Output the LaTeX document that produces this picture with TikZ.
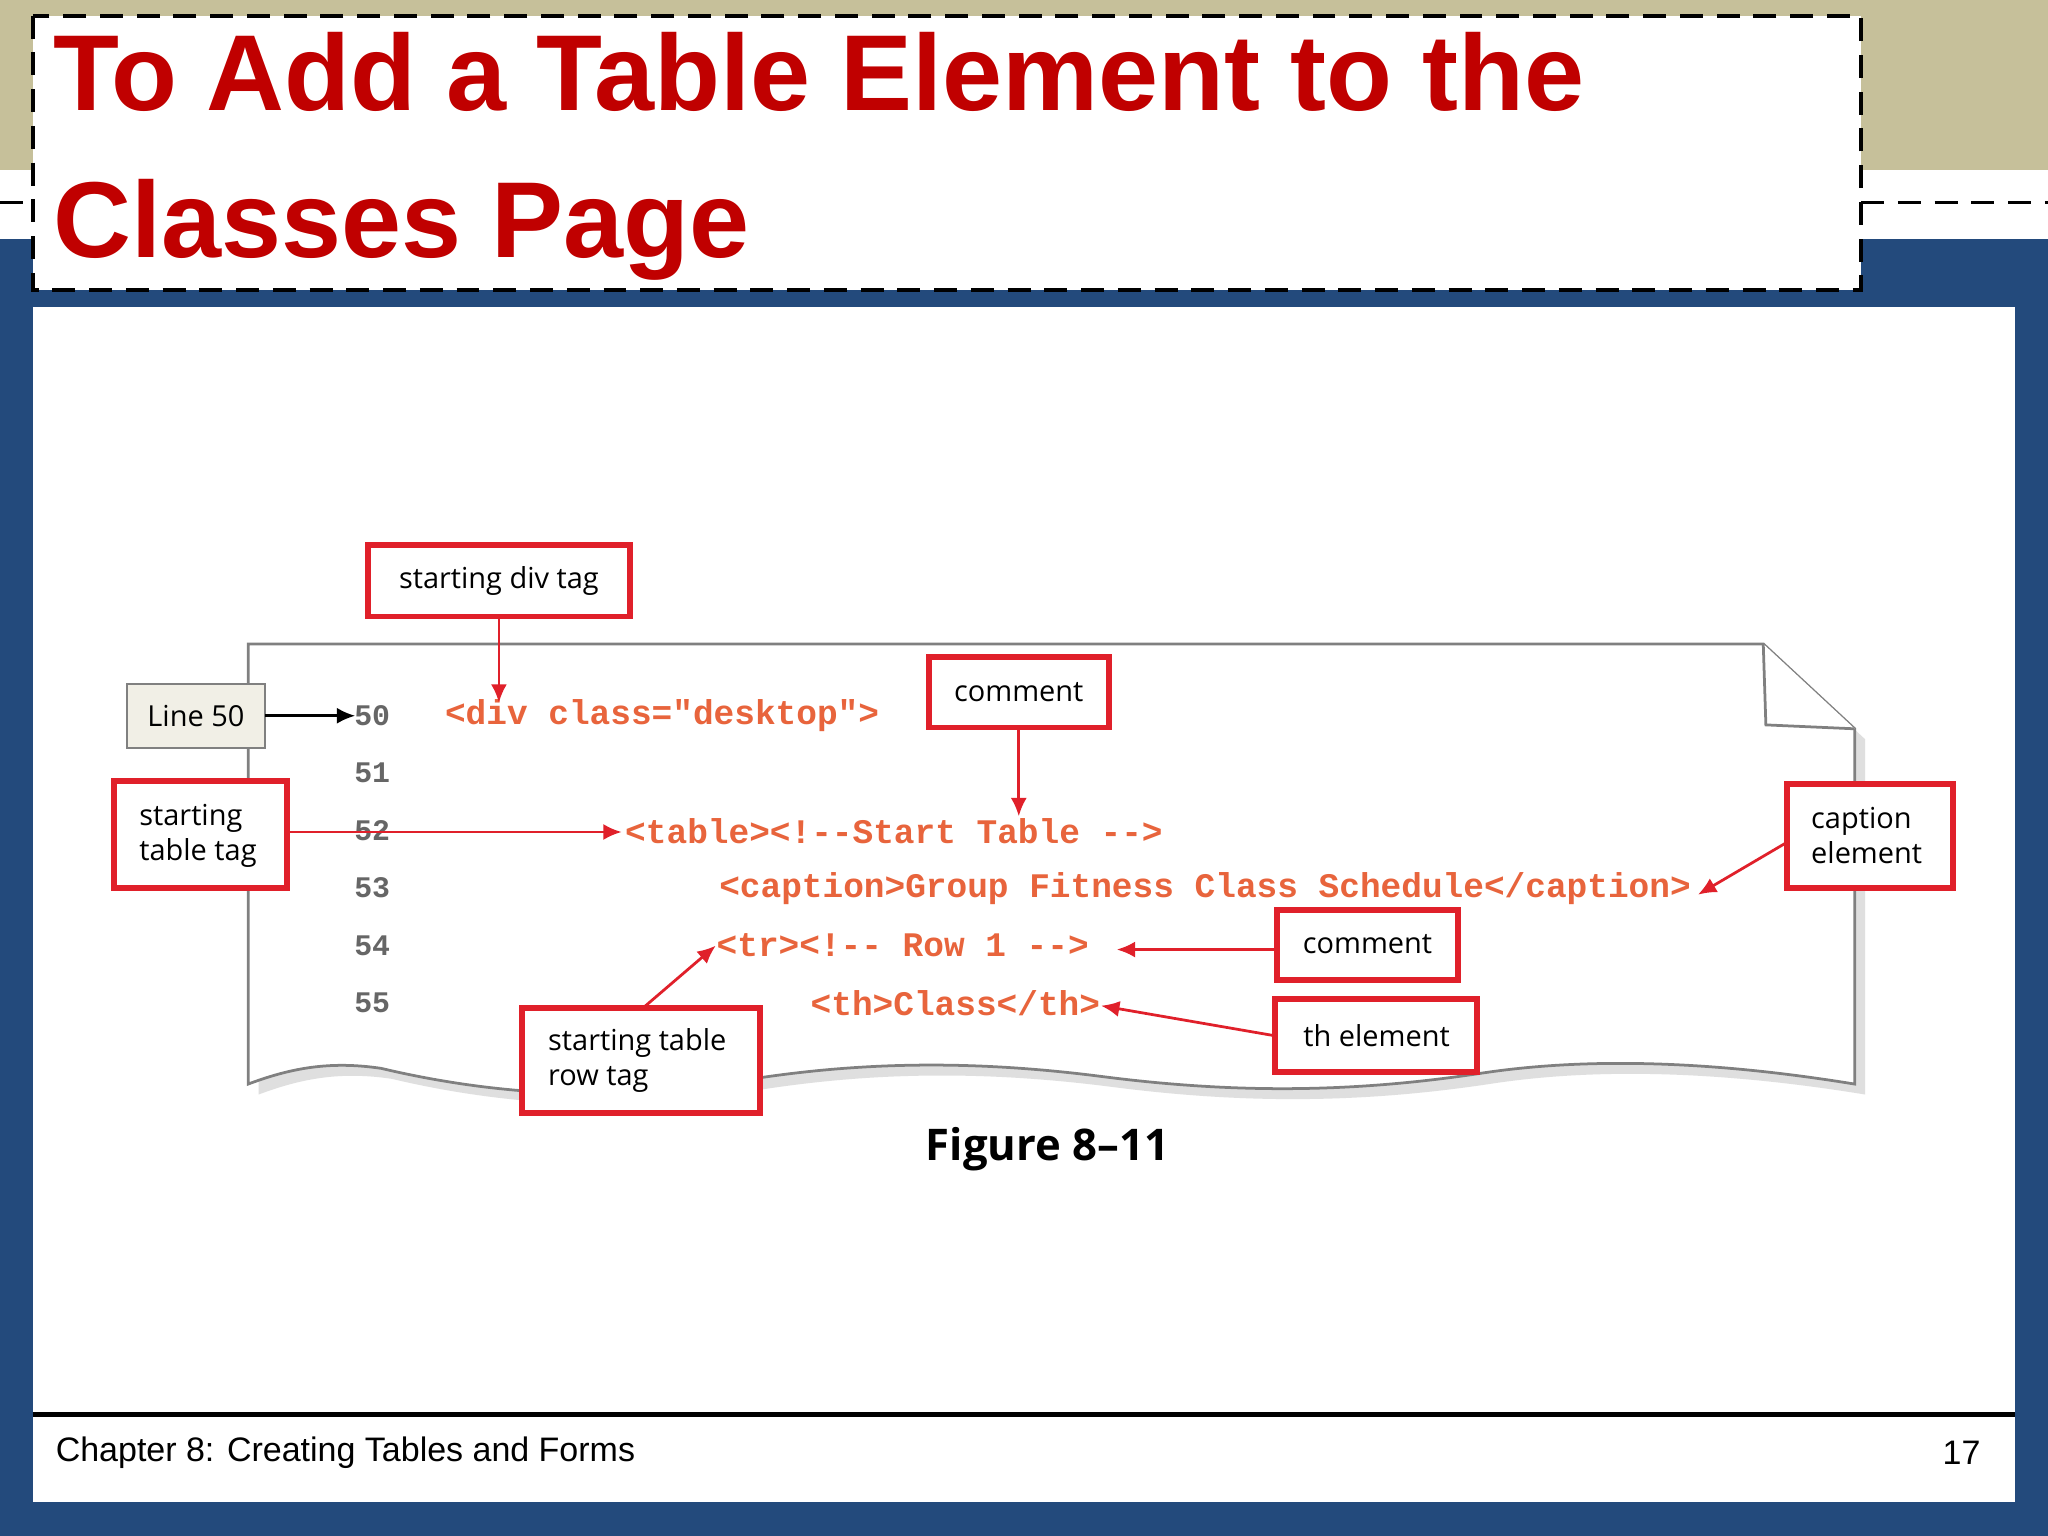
\documentclass[tikz,border=0pt]{standalone}
\usepackage{fontspec}
\setmainfont{Liberation Sans}
\newfontfamily\codefont{Liberation Mono}
\newfontfamily\callfont{Open Sans}
\usetikzlibrary{arrows.meta}
\definecolor{beige}{HTML}{C6C09A}
\definecolor{navy}{HTML}{234A7C}
\definecolor{tred}{HTML}{C00000}
\definecolor{cred}{HTML}{E0202A}
\definecolor{code}{HTML}{E8643C}
\tikzset{
 cbox/.style={draw=cred,line width=1.3pt,fill=white},
 ctext/.style={font=\callfont\fontsize{6.3}{7.6}\selectfont,align=left,inner sep=0pt},
 redarrow/.style={draw=cred,line width=0.6pt,-{Latex[length=4pt,width=3.5pt]}},
 codeline/.style={anchor=west,text=code,font=\codefont\bfseries\fontsize{7.5}{9}\selectfont,inner sep=0pt},
 lnum/.style={text=gray!80!black,font=\codefont\bfseries\fontsize{6.5}{8}\selectfont,inner sep=0pt}
}
\begin{document}
\begin{tikzpicture}[x=0.01cm,y=-0.01cm]
\useasboundingbox (0,0) rectangle (1568,1176);
% background
\fill[navy] (0,0) rectangle (1568,1176);
\fill[beige] (0,0) rectangle (1568,130);
\fill[white] (0,130) rectangle (1568,183);
\draw[line width=0.8pt,dash pattern=on 5pt off 3pt] (0,155) -- (25,155) (1425,155) -- (1568,155);
\fill[white] (25,235) rectangle (1543,1150);
% title
\draw[line width=0.9pt,dash pattern=on 5pt off 3pt,fill=white] (25,12) rectangle (1425,222);
\node[anchor=west,text=tred,font=\bfseries\fontsize{23.5}{32}\selectfont,align=left,inner sep=0pt] (title) at (40,120) {To Add a Table Element to the\\Classes Page};
% footer
\draw[line width=1.2pt] (25,1083) -- (1543,1083);
\node[anchor=west,font=\fontsize{7.4}{8}\selectfont,inner sep=0pt] (foot) at (42,1112) {Chapter 8: Creating Tables and Forms};
\node[anchor=east,font=\fontsize{7.4}{8}\selectfont,inner sep=0pt] (pnum) at (1517,1112) {17};
% paper
\fill[gray!25] (198,501) -- (1358,501) -- (1428,566) -- (1428,838)
 .. controls (1330,822) and (1230,816) .. (1140,830)
 .. controls (1040,845) and (950,845) .. (850,832)
 .. controls (740,818) and (650,822) .. (560,838)
 .. controls (470,852) and (380,845) .. (300,826)
 .. controls (260,820) and (230,826) .. (198,838) -- cycle;
\draw[gray,fill=white,line width=0.6pt] (190,493) -- (1350,493) -- (1420,558) -- (1420,830)
 .. controls (1322,814) and (1222,808) .. (1132,822)
 .. controls (1032,837) and (942,837) .. (842,824)
 .. controls (732,810) and (642,814) .. (552,830)
 .. controls (462,844) and (372,837) .. (292,818)
 .. controls (252,812) and (222,818) .. (190,830) -- cycle;
\draw[gray,fill=white,line width=0.6pt] (1350,493) -- (1352,555) -- (1420,558);
% line numbers
\foreach \n/\y in {50/548,51/592,52/636,53/680,54/724,55/768}
  \node[lnum] (n\n) at (285,\y) {\n};
% code
\node[codeline] (c50) at (340,548) {<div class="desktop">};
\node[codeline] (c52) at (478,636) {<table><!--Start Table -->};
\node[codeline] (c53) at (550,680) {<caption>Group Fitness Class Schedule</caption>};
\node[codeline] (c54) at (548,724) {<tr><!-- Row 1 -->};
\node[codeline] (c55) at (620,768) {<th>Class</th>};
% callouts
\draw[cbox] (282,417) rectangle (482,472);
\node[ctext] (divt) at (382,445) {starting div tag};
\draw[cbox] (711,503) rectangle (849,557);
\node[ctext] (com1) at (780,530) {comment};
\draw[cbox] (87,598) rectangle (220,680);
\node[ctext,anchor=west] (tab) at (106,640) {starting\\table tag};
\draw[cbox] (1368,600) rectangle (1495,680);
\node[ctext,anchor=west] (cap) at (1386,640) {caption\\element};
\draw[cbox] (978,697) rectangle (1116,750);
\node[ctext] (com2) at (1047,723) {comment};
\draw[cbox] (976,765) rectangle (1131,821);
\node[ctext] (th) at (1054,793) {th element};
\draw[cbox] (400,772) rectangle (582,852);
\node[ctext,anchor=west] (row) at (419,812) {starting table\\row tag};
\draw[gray,fill=beige!25] (97,524) rectangle (203,573);
\node[ctext] (l50t) at (150,548) {Line 50};
% arrows
\coordinate (a1s) at (382,472); \coordinate (a1e) at (382,538);
\draw[redarrow] (a1s) -- (a1e);
\coordinate (a2s) at (780,557); \coordinate (a2e) at (780,625);
\draw[redarrow] (a2s) -- (a2e);
\coordinate (a3s) at (220,637); \coordinate (a3e) at (476,637);
\draw[redarrow] (a3s) -- (a3e);
\coordinate (a4s) at (1368,645); \coordinate (a4e) at (1300,685);
\draw[redarrow] (a4s) -- (a4e);
\coordinate (a5s) at (978,727); \coordinate (a5e) at (855,727);
\draw[redarrow] (a5s) -- (a5e);
\coordinate (a6s) at (976,793); \coordinate (a6e) at (843,770);
\draw[redarrow] (a6s) -- (a6e);
\coordinate (a7s) at (492,772); \coordinate (a7e) at (548,724);
\draw[redarrow] (a7s) -- (a7e);
\coordinate (a8s) at (203,548); \coordinate (a8e) at (272,548);
\draw[line width=0.6pt,-{Latex[length=4pt,width=3.5pt]}] (a8s) -- (a8e);
% figure caption
\node[font=\callfont\bfseries\fontsize{9.5}{11}\selectfont,inner sep=0pt] (fig) at (802,880) {Figure 8–11};
\end{tikzpicture}
\end{document}
